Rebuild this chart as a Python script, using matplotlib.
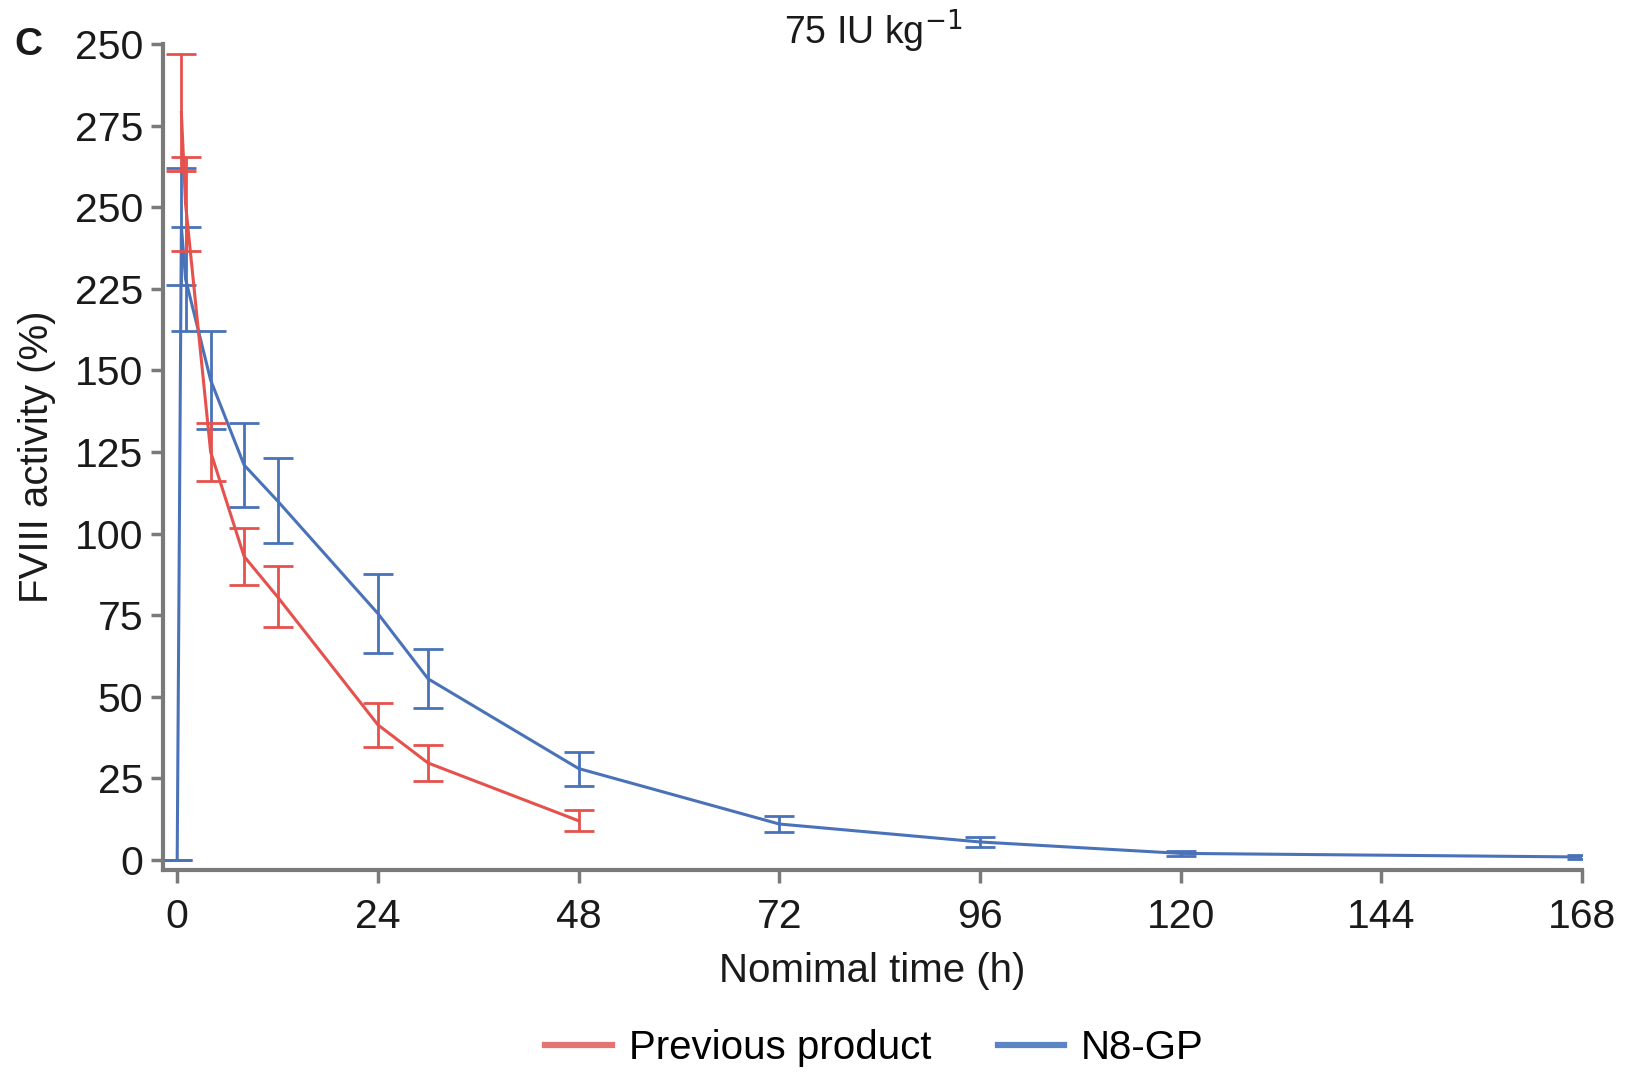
import matplotlib
matplotlib.use("Agg")
import matplotlib.pyplot as plt
from matplotlib.lines import Line2D

plt.rcParams['font.family'] = ['Liberation Sans', 'DejaVu Sans']

# Values are in the chart's plotted (axis-position) units; the axis uses the
# tick labels printed on the original figure.
n8gp_time = [0, 0.5, 1, 4, 8, 12, 24, 30, 48, 72, 96, 120, 168]
n8gp_mean = [0, 194, 178, 147, 121, 110, 75.5, 55.5, 28, 11, 5.5, 2, 0.9]
n8gp_err = [0, 18, 16, 15, 13, 13, 12, 9, 5.2, 2.4, 1.5, 0.7, 0.5]

prev_time = [0.5, 1, 4, 8, 12, 24, 30, 48]
prev_mean = [229, 201, 125, 93, 80.6, 41.4, 29.7, 12]
prev_err = [18, 14.5, 9, 8.7, 9.3, 6.7, 5.5, 3.2]

y_ticks = [0, 25, 50, 75, 100, 125, 150, 175, 200, 225, 250]
y_tick_labels = ['0', '25', '50', '75', '100', '125', '150', '225', '250', '275', '250']
x_ticks = [0, 24, 48, 72, 96, 120, 144, 168]

blue = '#4a72b8'
red = '#e5524e'
blue_leg = '#5b84c4'
red_leg = '#e27572'
spine_col = '#7a7a7a'
txt = '#1a1a1a'

fig = plt.figure(figsize=(16.33, 10.72), dpi=100)
ax = fig.add_axes([0.0998, 0.1884, 0.869, 0.7706])

ax.errorbar(n8gp_time, n8gp_mean, yerr=n8gp_err, color=blue, lw=2.2,
            elinewidth=2.0, capsize=11, capthick=2.0, zorder=2)
ax.errorbar(prev_time, prev_mean, yerr=prev_err, color=red, lw=2.2,
            elinewidth=2.0, capsize=11, capthick=2.0, zorder=3)

ax.set_xlim(-1.7, 168)
ax.set_ylim(-3.1, 250)
ax.set_xticks(x_ticks)
ax.set_xticklabels([str(t) for t in x_ticks])
ax.set_yticks(y_ticks)
ax.set_yticklabels(y_tick_labels)

for s in ['top', 'right']:
    ax.spines[s].set_visible(False)
for s in ['left', 'bottom']:
    ax.spines[s].set_color(spine_col)
    ax.spines[s].set_linewidth(3)
ax.tick_params(axis='both', colors=spine_col, width=2.5, length=9,
               labelsize=29.5, labelcolor=txt)
ax.tick_params(axis='x', pad=11)
ax.tick_params(axis='y', pad=5)

ax.set_xlabel('Nomimal time (h)', fontsize=29, color=txt, labelpad=12)
ax.set_ylabel('FVIII activity (%)', fontsize=29, color=txt, labelpad=14)

fig.text(0.5346, 0.971, '75 IU kg$^{-1}$', fontsize=27, color=txt,
         ha='center', va='center')
fig.text(0.009, 0.958, 'C', fontsize=28, fontweight='bold', color=txt,
         va='center', ha='left')

handles = [Line2D([0], [0], color=red_leg, lw=4.5),
           Line2D([0], [0], color=blue_leg, lw=4.5)]
fig.legend(handles, ['Previous product', 'N8-GP'], loc='center',
           bbox_to_anchor=(0.5355, 0.022), ncol=2, frameon=False, fontsize=29,
           handlelength=1.65, columnspacing=1.65, handletextpad=0.42)

fig.savefig('out.png', dpi=100)
